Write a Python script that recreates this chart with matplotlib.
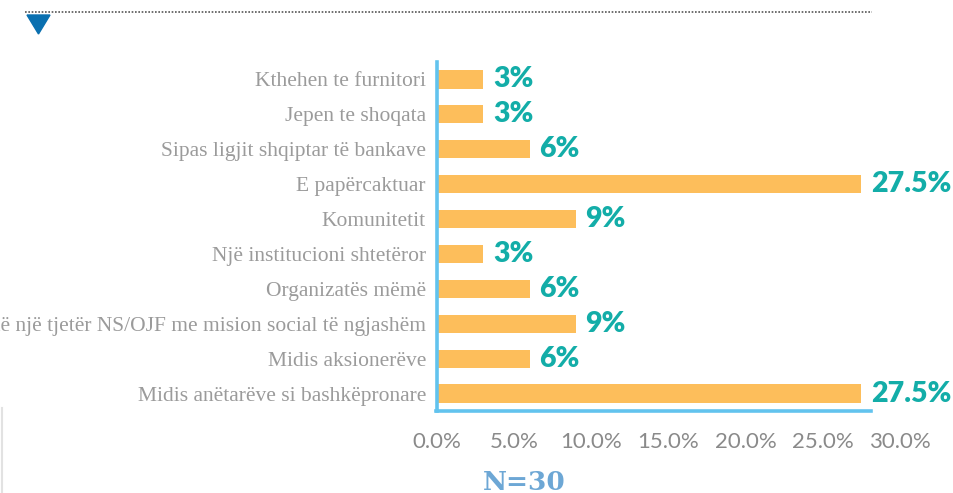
import matplotlib
matplotlib.use("Agg")
import matplotlib.pyplot as plt
from matplotlib.lines import Line2D
from matplotlib.patches import Polygon

categories = [
    "Kthehen te furnitori",
    "Jepen te shoqata",
    "Sipas ligjit shqiptar të bankave",
    "E papërcaktuar",
    "Komunitetit",
    "Një institucioni shtetëror",
    "Organizatës mëmë",
    "Kalojnë një tjetër NS/OJF me mision social të ngjashëm",
    "Midis aksionerëve",
    "Midis anëtarëve si bashkëpronare",
]
values = [3, 3, 6, 27.5, 9, 3, 6, 9, 6, 27.5]
value_labels = ["3%", "3%", "6%", "27.5%", "9%", "3%", "6%", "9%", "6%", "27.5%"]
xticks = [0, 5, 10, 15, 20, 25, 30]
xtick_labels = ["0.0%", "5.0%", "10.0%", "15.0%", "20.0%", "25.0%", "30.0%"]
n_text = "N=30"

W, H = 954, 493
fig = plt.figure(figsize=(W / 100, H / 100), dpi=100)
fig.patch.set_facecolor("white")

left, right, top, bottom = 437, 900, 62, 411
ax = fig.add_axes([left / W, 1 - bottom / H, (right - left) / W, (bottom - top) / H])

ypos = list(range(len(categories)))
ax.barh(ypos, values, height=0.52, color="#FDBE5B", zorder=2)
ax.set_ylim(len(categories) - 0.5, -0.5)
ax.set_xlim(0, 30)

for y, v, lab in zip(ypos, values, value_labels):
    ax.annotate(lab, (v, y), xytext=(7, 0), textcoords="offset points",
                ha="left", va="center", fontsize=20.5, fontweight="heavy",
                family=["Lato", "DejaVu Sans"], color="#13ADA8", clip_on=False)

ax.set_yticks(ypos)
ax.set_yticklabels(categories, family=["Liberation Serif", "DejaVu Serif"],
                   fontsize=15.5, color="#9b9b9b")
ax.set_xticks(xticks)
ax.set_xticklabels(xtick_labels, family=["Lato", "DejaVu Sans"], fontsize=16,
                   color="#8a8a8a")
ax.tick_params(axis="both", length=0)
ax.tick_params(axis="y", pad=8)
ax.tick_params(axis="x", pad=15)

for s in ["top", "right", "bottom"]:
    ax.spines[s].set_visible(False)
ax.spines["left"].set_color("#62C3EE")
ax.spines["left"].set_linewidth(2.6)
ax.set_facecolor("none")

# bottom axis line (shorter than full range, as in reference)
ax.axhline(len(categories) - 0.5, xmin=-0.003, xmax=(871 - left) / (right - left),
           color="#62C3EE", lw=2.6, clip_on=False, zorder=3)

# N label
fig.text(524 / W, 1 - 482 / H, n_text, ha="center", va="center",
         family=["DejaVu Serif"], fontweight="bold", fontsize=19, color="#6DA7D5")

# top dotted line
fig.add_artist(Line2D([25 / W, 872 / W], [1 - 12 / H, 1 - 12 / H],
                      transform=fig.transFigure, color="#555555", lw=1.2,
                      linestyle=(0, (1, 1))))
# triangle marker
tri = Polygon([[27 / W, 1 - 15 / H], [50 / W, 1 - 15 / H], [38.5 / W, 1 - 34 / H]],
              closed=True, transform=fig.transFigure, color="#0A70B0")
fig.add_artist(tri)
# faint left-edge line
fig.add_artist(Line2D([2 / W, 2 / W], [1 - 408 / H, 0], transform=fig.transFigure,
                      color="#e2e2e2", lw=1.5))

fig.savefig("out.png", dpi=100, facecolor="white")
